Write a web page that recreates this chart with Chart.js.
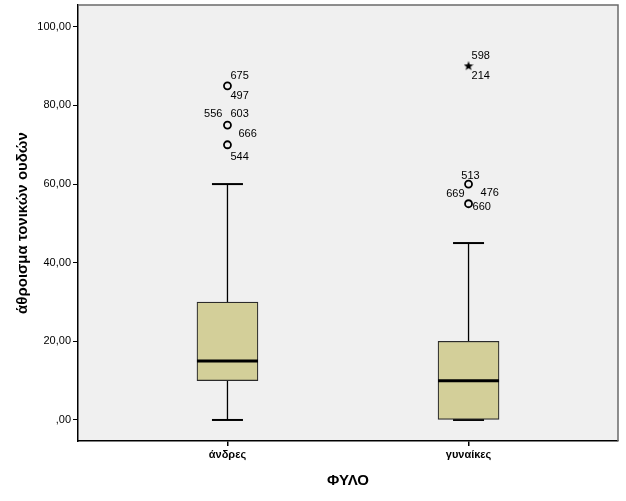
<!DOCTYPE html>
<html>
<head>
<meta charset="utf-8">
<script src="https://cdn.jsdelivr.net/npm/chart.js@4.4.1/dist/chart.umd.min.js"></script>
<style>
  html, body { margin: 0; padding: 0; background: #ffffff; }
  #wrap { width: 626px; height: 501px; }
</style>
</head>
<body>
<div id="wrap"><canvas id="chart" width="626" height="501"></canvas></div>
<script>
// groups and five-number summaries
const groups = ['άνδρες', 'γυναίκες'];
const whiskerLow = [0, 0];
const q1 = [10, 0];
const median = [15, 10];
const q3 = [30, 20];
const whiskerHigh = [60, 45];

// outliers (circles) and extremes (stars), group index is 1-based
const outlierGroup = [1, 1, 1, 2, 2];
const outlierValue = [85, 75, 70, 60, 55];
const outlierIds = [['675', '497'], ['556', '603', '666'], ['544'], ['513'], ['669', '476', '660']];
const extremeGroup = [2];
const extremeValue = [90];
const extremeIds = [['598', '214']];

const yTicks = [0, 20, 40, 60, 80, 100];

// where each case number sits next to its marker (dx, dy, align)
const labelPlace = {
  '675': [3, -10, 'left'], '497': [3, 10, 'left'],
  '556': [-5, -11, 'right'], '603': [3, -11, 'left'], '666': [11, 9, 'left'],
  '544': [3, 12, 'left'],
  '598': [3, -10, 'left'], '214': [3, 10, 'left'],
  '513': [2, -8, 'center'],
  '669': [-4, -10, 'right'], '476': [12, -11, 'left'], '660': [4, 3, 'left']
};

const FONT = "'Liberation Sans', Arial, sans-serif";

// small filled star for extreme values
function makeStar(size) {
  const c = document.createElement('canvas');
  c.width = size; c.height = size;
  const g = c.getContext('2d');
  const cx = size / 2, cy = size / 2, R = size / 2, r = R * 0.42;
  g.beginPath();
  for (let i = 0; i < 10; i++) {
    const a = -Math.PI / 2 + i * Math.PI / 5;
    const rad = i % 2 === 0 ? R : r;
    g.lineTo(cx + rad * Math.cos(a), cy + rad * Math.sin(a));
  }
  g.closePath();
  g.fillStyle = '#000';
  g.fill();
  return c;
}

function whisker(i, from, to) {
  return {
    type: 'scatter',
    data: [{ x: i + 1, y: from }, { x: i + 1, y: to }],
    showLine: true,
    borderColor: '#000',
    borderWidth: 1.3,
    pointRadius: 0,
    order: 5
  };
}
const whiskerSets = groups.flatMap((g, i) => [whisker(i, whiskerLow[i], q1[i]), whisker(i, q3[i], whiskerHigh[i])]);

const capSet = {
  type: 'scatter',
  data: groups.flatMap((g, i) => [{ x: i + 1, y: whiskerLow[i] }, { x: i + 1, y: whiskerHigh[i] }]),
  pointStyle: 'line',
  pointRadius: 15.5,
  borderColor: '#000',
  borderWidth: 2,
  order: 4
};

const boxSet = {
  type: 'bar',
  data: groups.map((g, i) => ({ x: i + 1, y: [q1[i], q3[i]] })),
  backgroundColor: '#d3cf99',
  borderColor: '#2b2b2b',
  borderWidth: 1.2,
  borderSkipped: false,
  barThickness: 61,
  order: 3
};

const medianSet = {
  type: 'scatter',
  data: groups.map((g, i) => ({ x: i + 1, y: median[i] })),
  pointStyle: 'line',
  pointRadius: 30.5,
  borderColor: '#000',
  borderWidth: 3,
  order: 2
};

const outlierSet = {
  type: 'scatter',
  data: outlierValue.map((v, i) => ({ x: outlierGroup[i], y: v })),
  pointStyle: 'circle',
  pointRadius: 3.5,
  backgroundColor: 'rgba(0,0,0,0)',
  borderColor: '#000',
  borderWidth: 1.8,
  ids: outlierIds,
  order: 1
};

const extremeSet = {
  type: 'scatter',
  data: extremeValue.map((v, i) => ({ x: extremeGroup[i], y: v })),
  pointStyle: makeStar(10),
  pointRadius: 5,
  ids: extremeIds,
  order: 0
};

const plotBackground = {
  id: 'plotBackground',
  beforeDraw(chart) {
    const { ctx, chartArea: a } = chart;
    ctx.save();
    ctx.fillStyle = '#f0f0f0';
    ctx.fillRect(a.left, a.top, a.right - a.left, a.bottom - a.top);
    ctx.restore();
  },
  afterDraw(chart) {
    const { ctx, chartArea: a } = chart;
    ctx.save();
    ctx.strokeStyle = '#6a6a6a';
    ctx.lineWidth = 1.5;
    ctx.beginPath();
    ctx.moveTo(a.left, a.top); ctx.lineTo(a.right, a.top); ctx.lineTo(a.right, a.bottom);
    ctx.stroke();
    ctx.restore();
  }
};

const caseLabels = {
  id: 'caseLabels',
  afterDatasetsDraw(chart) {
    const ctx = chart.ctx;
    ctx.save();
    ctx.font = '11px ' + FONT;
    ctx.fillStyle = '#000';
    ctx.textBaseline = 'middle';
    chart.data.datasets.forEach((ds, di) => {
      if (!ds.ids) return;
      chart.getDatasetMeta(di).data.forEach((pt, i) => {
        ds.ids[i].forEach(id => {
          const p = labelPlace[id] || [3, 0, 'left'];
          ctx.textAlign = p[2];
          ctx.fillText(id, pt.x + p[0], pt.y + p[1]);
        });
      });
    });
    ctx.restore();
  }
};

new Chart(document.getElementById('chart'), {
  type: 'bar',
  data: { datasets: [medianSet, outlierSet, extremeSet, boxSet, capSet, ...whiskerSets] },
  options: {
    responsive: false,
    animation: false,
    layout: { autoPadding: false, padding: { top: 5, right: 8, left: 0, bottom: 0 } },
    plugins: { legend: { display: false }, tooltip: { enabled: false } },
    scales: {
      x: {
        type: 'linear',
        min: 0.38,
        max: 2.62,
        offset: false,
        afterBuildTicks: s => { s.ticks = groups.map((g, i) => ({ value: i + 1 })); },
        afterFit: s => { s.height = 60; s.paddingLeft = 0; s.paddingRight = 0; },
        ticks: {
          callback: v => groups[v - 1],
          color: '#000',
          font: { family: FONT, size: 11, weight: 'bold' },
          padding: 2,
          maxRotation: 0
        },
        grid: { offset: false, drawOnChartArea: false, drawTicks: true, tickLength: 5, color: '#000', lineWidth: 1.5 },
        border: { display: true, color: '#000', width: 1.5 },
        title: {
          display: true,
          text: 'ΦΥΛΟ',
          color: '#000',
          font: { family: FONT, size: 15, weight: 'bold' },
          padding: { top: 0, bottom: 11 }
        }
      },
      y: {
        type: 'linear',
        min: -5.35,
        max: 105.55,
        afterBuildTicks: s => { s.ticks = yTicks.map(v => ({ value: v })); },
        afterFit: s => { s.width = 78; s.paddingTop = 0; s.paddingBottom = 0; },
        ticks: {
          callback: v => (v === 0 ? '' : String(v)) + ',00',
          color: '#000',
          font: { family: FONT, size: 11 },
          padding: 2
        },
        grid: { drawOnChartArea: false, drawTicks: true, tickLength: 5, color: '#000', lineWidth: 1 },
        border: { display: true, color: '#000', width: 1.5 },
        title: {
          display: true,
          text: 'άθροισμα τονικών ουδών',
          color: '#000',
          font: { family: FONT, size: 15, weight: 'bold' },
          padding: { top: 14, bottom: 0 }
        }
      }
    }
  },
  plugins: [plotBackground, caseLabels]
});
</script>
</body>
</html>
